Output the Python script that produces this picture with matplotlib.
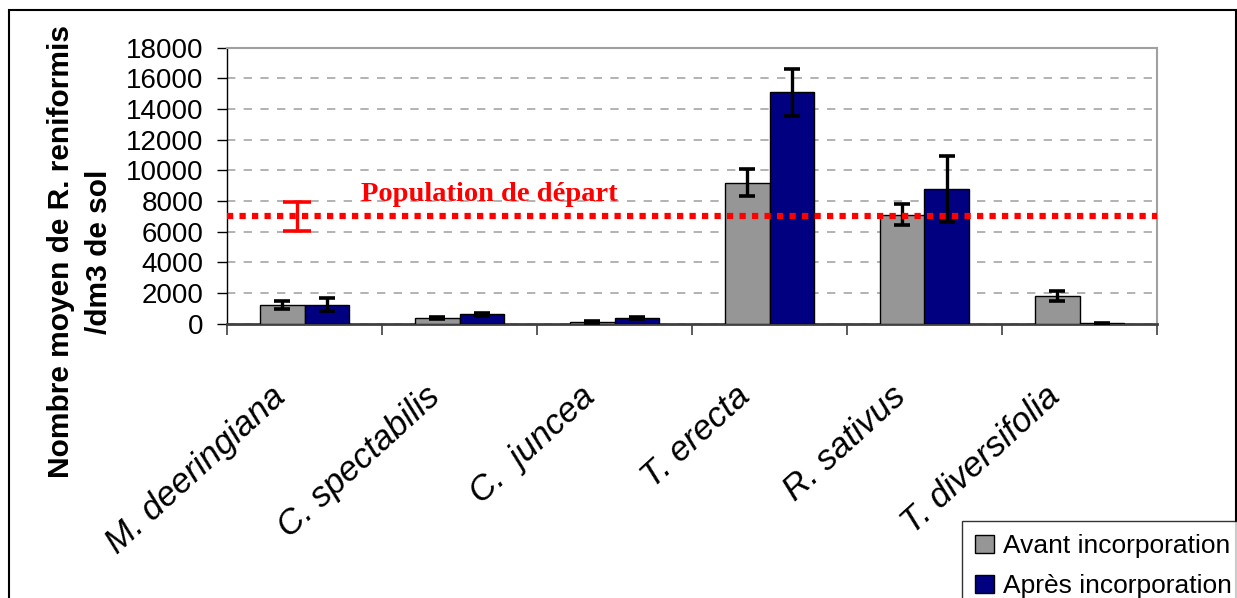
import numpy as np
import matplotlib
matplotlib.use("Agg")
import matplotlib.pyplot as plt
import matplotlib.transforms as mtransforms
from matplotlib.patches import Rectangle

plt.rcParams['font.family'] = ['Liberation Sans', 'DejaVu Sans']

# Plant species (x categories)
species = ["M. deeringiana", "C. spectabilis", "C.  juncea", "T. erecta",
           "R. sativus", "T. diversifolia"]

# Mean nematode counts per dm3 of soil, before / after incorporation
avant = [1200, 370, 110, 9200, 7100, 1830]
avant_err = [250, 80, 50, 900, 680, 330]
apres = [1250, 630, 370, 15100, 8800, 15]
apres_err = [450, 100, 80, 1530, 2150, 15]

# Starting population with its spread
pop_depart = 7000
pop_depart_err = 950

yticks = [0, 2000, 4000, 6000, 8000, 10000, 12000, 14000, 16000, 18000]

W, H = 1237, 598
fig = plt.figure(figsize=(W / 100, H / 100), dpi=100)
ax = fig.add_axes([227 / W, 1 - 323.7 / H, (1157 - 227) / W, (323.7 - 47.7) / H])

x = np.arange(len(species))
bw = 0.29
err_kw = dict(ecolor="black", elinewidth=2.4, capsize=6, capthick=2.6)

ax.bar(x - bw / 2, avant, bw, color="#969696", edgecolor="black", linewidth=1.0,
       yerr=avant_err, error_kw=err_kw, label="Avant incorporation", zorder=3)
ax.bar(x + bw / 2, apres, bw, color="#000080", edgecolor="black", linewidth=1.0,
       yerr=apres_err, error_kw=err_kw, label="Après incorporation", zorder=3)

# Starting population: dotted reference line and its error bar
ax.axhline(pop_depart, color="#ff0000", linestyle=(0, (1, 1)), linewidth=4.5, zorder=4)
ax.errorbar([-0.05], [pop_depart], yerr=[pop_depart_err], fmt="none",
            ecolor="#ff0000", elinewidth=2.4, capsize=10, capthick=2.6, zorder=5)
ax.text(1.19, 8000, "Population de départ", color="#ff0000", fontsize=20.5,
        fontweight="bold", family=["Liberation Serif", "DejaVu Serif"],
        ha="center", va="baseline", zorder=5)

ax.set_xlim(-0.5, len(species) - 0.5)
ax.set_ylim(0, 18000)
ax.set_yticks(yticks)
ax.set_yticklabels([str(v) for v in yticks], fontsize=20)
ax.yaxis.grid(True, color="#a6a6a6", linestyle=(0, (5, 5)), linewidth=1.2, zorder=0)

# category boundaries as ticks; names drawn as rotated text below the axis
ax.set_xticks(np.arange(-0.5, len(species), 1.0))
ax.set_xticklabels([])
ax.tick_params(axis="x", which="major", length=8, width=1.2, color="#404040",
               direction="out")
ax.tick_params(axis="y", length=7, width=1.0, direction="out", pad=10)

label_tr = ax.get_xaxis_transform() + mtransforms.ScaledTranslation(
    -35 / 100, -56 / 100, fig.dpi_scale_trans)
for xi, name in zip(x, species):
    ax.text(xi, 0, name, transform=label_tr, rotation=42.5, ha="right", va="top",
            rotation_mode="anchor", fontsize=25, style="italic", clip_on=False)

for side in ("top", "right"):
    ax.spines[side].set_color("#a0a0a0")
    ax.spines[side].set_linewidth(1.5)
ax.spines["left"].set_color("black")
ax.spines["left"].set_linewidth(1.0)
ax.spines["bottom"].set_color("#404040")
ax.spines["bottom"].set_linewidth(2.0)

fig.text(80 / W, 1 - 252 / H, "Nombre moyen de R. reniformis\n/dm3 de sol",
         rotation=90, ha="center", va="center", multialignment="center",
         fontsize=21.5, fontweight="bold", linespacing=1.45)

leg = fig.legend(loc="upper left", bbox_to_anchor=(962 / W, 1 - 521 / H),
                 fontsize=19, frameon=True, fancybox=False, borderaxespad=0,
                 handlelength=0.7, handleheight=0.7, handletextpad=0.35,
                 labelspacing=0.6, borderpad=0.5)
leg.get_frame().set_edgecolor("black")
leg.get_frame().set_linewidth(1.0)

# outer chart frame
fig.patches.append(Rectangle((9 / W, -0.1), (1236 - 9) / W, 1.1 - 10 / H,
                             transform=fig.transFigure, fill=False,
                             edgecolor="black", linewidth=1.5, zorder=0))

fig.savefig("out.png", dpi=100)
